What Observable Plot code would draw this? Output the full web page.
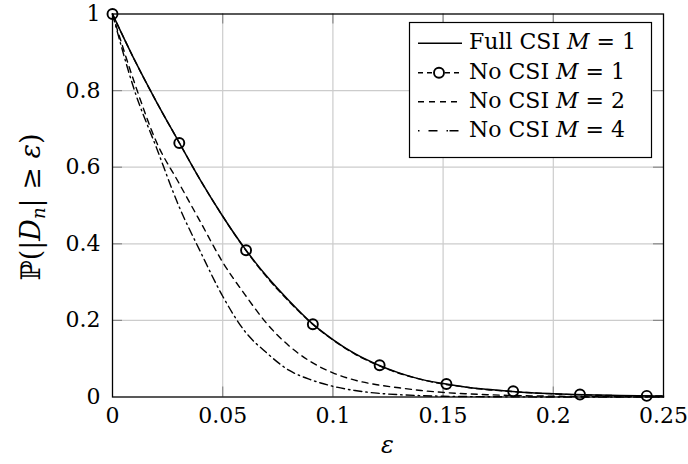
<!DOCTYPE html>
<html>
<head>
<meta charset="utf-8">
<script src="https://cdn.jsdelivr.net/npm/d3@7"></script>
<script src="https://cdn.jsdelivr.net/npm/@observablehq/plot@0.6"></script>
<style>
  html, body { margin: 0; padding: 0; background: white; }
  #chart { position: relative; width: 688px; height: 464px; }
</style>
</head>
<body>
<div id="chart"></div>
<script>
// ---- data ----
const xTicks = [0, 0.05, 0.1, 0.15, 0.2, 0.25];
const xTickLabels = ["0", "0.05", "0.1", "0.15", "0.2", "0.25"];
const yTicks = [0, 0.2, 0.4, 0.6, 0.8, 1];
const yTickLabels = ["0", "0.2", "0.4", "0.6", "0.8", "1"];

const eps = [0, 0.01, 0.02, 0.03, 0.04, 0.05, 0.06, 0.07, 0.08, 0.09, 0.10, 0.11, 0.12,
             0.13, 0.14, 0.15, 0.16, 0.17, 0.18, 0.19, 0.20, 0.21, 0.22, 0.23, 0.24, 0.25];
const fullCsiM1 = [1, 0.88, 0.77, 0.667, 0.565, 0.472, 0.388, 0.315, 0.252, 0.195, 0.150, 0.113, 0.085,
                   0.063, 0.046, 0.035, 0.026, 0.020, 0.015, 0.011, 0.0085, 0.0065, 0.005, 0.004, 0.003, 0.0025];
const noCsiM1 = [1, 0.88, 0.77, 0.667, 0.565, 0.472, 0.387, 0.313, 0.250, 0.194, 0.149, 0.112, 0.084,
                 0.062, 0.046, 0.034, 0.026, 0.019, 0.015, 0.011, 0.008, 0.006, 0.0045, 0.0035, 0.003, 0.0025];
const noCsiM2 = [1, 0.82, 0.665, 0.56, 0.456, 0.352, 0.268, 0.192, 0.134, 0.092, 0.063, 0.044, 0.032,
                 0.024, 0.017, 0.012, 0.0085, 0.006, 0.0042, 0.003, 0.002, 0.0014, 0.001, 0.0007, 0.0005, 0.0003];
const noCsiM4 = [1, 0.80, 0.65, 0.50, 0.378, 0.263, 0.172, 0.115, 0.070, 0.045, 0.028, 0.017, 0.010,
                 0.006, 0.0035, 0.002, 0.0012, 0.0007, 0.0004, 0.0002, 0.0001, 0, 0, 0, 0, 0];
const markerEps = [0, 0.0303, 0.0606, 0.0909, 0.1212, 0.1515, 0.1818, 0.2121, 0.2424];
const markerNoCsiM1 = [1, 0.663, 0.383, 0.190, 0.083, 0.034, 0.015, 0.0065, 0.003];

const seriesNames = ["Full CSI", "No CSI", "No CSI", "No CSI"];
const seriesM = ["1", "1", "2", "4"];

// ---- tables built from the arrays ----
const toRows = arr => eps.map((e, i) => ({eps: e, p: arr[i]}));
const markers = markerEps.map((e, i) => ({eps: e, p: markerNoCsiM1[i]}));

const W = 688, H = 464;
const mL = 112, mR = 25, mT = 13.5, mB = 67.5;
const innerW = W - mL - mR, innerH = H - mT - mB;
const inner = xTicks.slice(1, -1), innerY = yTicks.slice(1, -1);
const FONT = "'DejaVu Serif', serif";

const dashStyles = [null, "6,4", "6,5", "8,4,1.5,4"];

const chart = Plot.plot({
  width: W, height: H,
  marginLeft: mL, marginRight: mR, marginTop: mT, marginBottom: mB,
  style: {fontSize: "22px", background: "white", color: "black", overflow: "visible"},
  x: {domain: [0, 0.25], label: null},
  y: {domain: [0, 1], label: null},
  marks: [
    Plot.gridX(inner, {stroke: "#cccccc", strokeOpacity: 1, strokeWidth: 1.2}),
    Plot.gridY(innerY, {stroke: "#cccccc", strokeOpacity: 1, strokeWidth: 1.2}),
    Plot.tickX(inner, {x: d => d, insetTop: innerH - 10, stroke: "#8a8a8a", strokeWidth: 1.2}),
    Plot.tickX(inner, {x: d => d, insetBottom: innerH - 10, stroke: "#8a8a8a", strokeWidth: 1.2}),
    Plot.tickY(innerY, {y: d => d, insetRight: innerW - 10, stroke: "#8a8a8a", strokeWidth: 1.2}),
    Plot.tickY(innerY, {y: d => d, insetLeft: innerW - 10, stroke: "#8a8a8a", strokeWidth: 1.2}),
    Plot.line(toRows(noCsiM4), {x: "eps", y: "p", stroke: "black", strokeWidth: 1.4, strokeDasharray: dashStyles[3], curve: "monotone-x"}),
    Plot.line(toRows(noCsiM2), {x: "eps", y: "p", stroke: "black", strokeWidth: 1.4, strokeDasharray: dashStyles[2], curve: "monotone-x"}),
    Plot.line(toRows(fullCsiM1), {x: "eps", y: "p", stroke: "black", strokeWidth: 1.5, curve: "monotone-x"}),
    Plot.line(toRows(noCsiM1), {x: "eps", y: "p", stroke: "black", strokeWidth: 1.4, strokeDasharray: dashStyles[1], curve: "monotone-x"}),
    Plot.dot(markers, {x: "eps", y: "p", r: 5, stroke: "black", strokeWidth: 1.9, fill: "none"}),
    Plot.frame({stroke: "black", strokeWidth: 1.3}),
    Plot.axisX(xTicks, {tickSize: 0, tickPadding: 10, fontSize: 22, tickFormat: d => xTickLabels[xTicks.indexOf(d)]}),
    Plot.axisY(yTicks, {tickSize: 0, tickPadding: 12, fontSize: 22, tickFormat: d => yTickLabels[yTicks.indexOf(d)]})
  ]
});

document.getElementById("chart").appendChild(chart);
const svg = d3.select(chart);

// axis labels
svg.append("text")
  .attr("x", mL + innerW / 2).attr("y", 453)
  .attr("text-anchor", "middle")
  .style("font-size", "24px").style("font-style", "italic")
  .text("ε");

const yl = svg.append("text")
  .attr("transform", "translate(40,207) rotate(-90)")
  .attr("text-anchor", "middle")
  .style("font-size", "27px");
yl.append("tspan").text("ℙ(|");
yl.append("tspan").style("font-style", "italic").text("D");
yl.append("tspan").style("font-style", "italic").style("font-size", "18px").attr("dy", 5).text("n");
yl.append("tspan").attr("dy", -5).text("| ≥ ");
yl.append("tspan").style("font-style", "italic").text("ε");
yl.append("tspan").text(")");

// legend
const lg = svg.append("g").attr("class", "legend").style("font-size", "22px");
lg.append("rect").attr("x", 409.5).attr("y", 22.5).attr("width", 242).attr("height", 135)
  .attr("fill", "white").attr("stroke", "black").attr("stroke-width", 1.2);
const rowY = [43.3, 72.7, 101.7, 130.7];
rowY.forEach((y, i) => {
  const g = lg.append("g");
  if (i === 1) {
    g.append("line").attr("x1", 418).attr("x2", 462).attr("y1", y).attr("y2", y)
      .attr("stroke", "black").attr("stroke-width", 1.4).attr("stroke-dasharray", "5,4");
    g.append("circle").attr("cx", 439).attr("cy", y).attr("r", 5)
      .attr("fill", "white").attr("stroke", "black").attr("stroke-width", 1.9);
  } else {
    g.append("line").attr("x1", 418).attr("x2", 462).attr("y1", y).attr("y2", y)
      .attr("stroke", "black").attr("stroke-width", 1.4)
      .attr("stroke-dasharray", i === 0 ? null : (i === 2 ? "6,5" : "1.5,9,9,9,1.5"));
  }
  const t = g.append("text").attr("x", 469).attr("y", y + 6).attr("text-anchor", "start");
  t.append("tspan").text(seriesNames[i] + " ");
  t.append("tspan").style("font-style", "italic").text("M");
  t.append("tspan").text(" = " + seriesM[i]);
});

// serif face on every text element
svg.selectAll("text").style("font-family", FONT);
</script>
</body>
</html>
